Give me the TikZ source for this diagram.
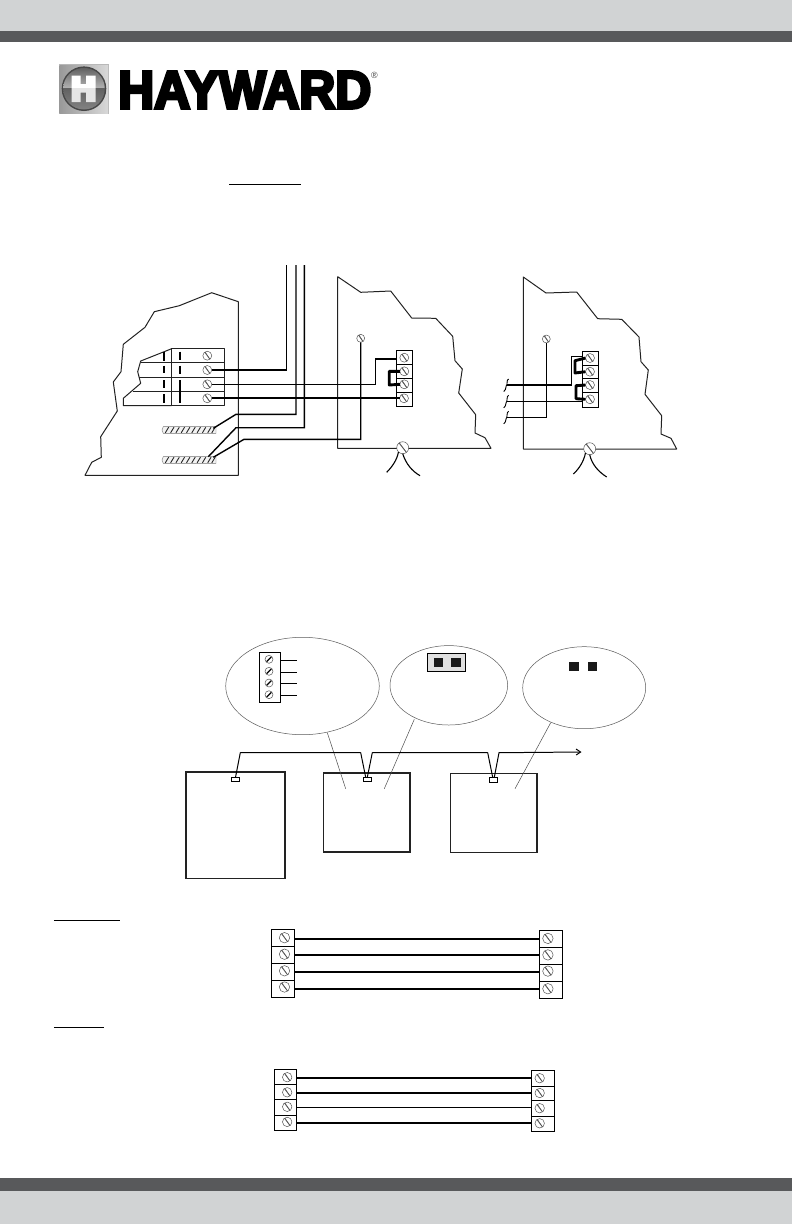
\documentclass[tikz,border=0pt]{standalone}
\usepackage{fontspec}
\usepackage{graphicx}
\usetikzlibrary{shapes.geometric,arrows.meta}
\newfontfamily\logofont[UprightFont=* Bold,FakeBold=6]{Liberation Sans}
\newfontfamily\regfont{Liberation Sans}
\definecolor{bandlight}{HTML}{D1D3D4}
\definecolor{banddark}{HTML}{58595B}
\definecolor{outl}{HTML}{222222}
\definecolor{scr}{HTML}{555555}
\tikzset{
 panel/.style={draw=outl,line width=1pt,line join=round},
 wire/.style={draw=black,line width=1.4pt,line join=miter},
 thinwire/.style={draw=black,line width=1.1pt},
 heavywire/.style={draw=black,line width=2pt},
 jumper/.style={draw=black,line width=2.9pt,line join=round},
 termbox/.style={draw=black,line width=0.9pt,fill=white},
 screw/.style={circle,draw=scr,line width=0.5pt,fill=white,inner sep=0pt,outer sep=0pt,minimum size=#1,
   path picture={\draw[scr,line width=0.7pt] ([xshift=0.7pt,yshift=0.7pt]path picture bounding box.north west) -- ([xshift=-0.7pt,yshift=-0.7pt]path picture bounding box.south east);
   \draw[scr,line width=0.5pt] ([xshift=2pt,yshift=-0.2pt]path picture bounding box.north west) -- ([xshift=0.2pt,yshift=-2pt]path picture bounding box.south east);}},
 bscrew/.style={circle,draw=scr,line width=0.5pt,fill=white,inner sep=0pt,outer sep=0pt,minimum size=8pt,
   path picture={\draw[black,line width=1.2pt] (path picture bounding box.south west) ++(1.6pt,1.6pt) -- ([xshift=-1.6pt,yshift=-1.6pt]path picture bounding box.north east);}},
 bubble/.style={ellipse,draw=black!65,line width=0.5pt,inner sep=0pt,outer sep=0pt},
 unitbox/.style={rectangle,draw=outl,line width=1.6pt,inner sep=0pt,outer sep=0pt},
 portbox/.style={rectangle,draw=black,line width=0.7pt,fill=white,inner sep=0pt,outer sep=0pt},
 leader/.style={draw=black!70,line width=0.5pt},
 cable/.style={draw=black,line width=1pt,line join=round},
 rule/.style={draw=black,line width=1pt},
 squiggle/.style={draw=black,line width=0.9pt},
 strip/.style={draw=black!55,line width=0.4pt,fill=black!5},
 hatch/.style={draw=black!85,line width=0.9pt},
}
\newcommand{\hstrip}[1]{%
  \draw[strip] (163.3,#1-3.4) -- (216,#1-3.4) -- (216,#1+3.4) -- (163.3,#1+3.4) -- (162,#1) -- cycle;
  \foreach \xx in {167,172.3,177.6,182.9,188.2,193.5,198.8,204.1,209.4,213.5}
    {\draw[hatch] (\xx-1.7,#1+2.8) -- (\xx+1.7,#1-2.8);}%
}
\begin{document}
\begin{tikzpicture}[x=1bp,y=-1bp]
\useasboundingbox (0,0) rectangle (792,1224);
% bands
\fill[bandlight] (0,0) rectangle (792,31);
\fill[banddark] (0,31) rectangle (792,42);
\fill[banddark] (0,1178) rectangle (792,1190.5);
\fill[bandlight] (0,1190.5) rectangle (792,1224);
% logo
\fill[black!28] (58.5,64) rectangle (109,114);
\shade[left color=black!40,right color=black!15] (59.5,65) rectangle (108,113);
\fill[black!72] (84,88.7) circle (22.3);
\begin{scope}
\clip (84,88.7) circle (20.8);
\shade[top color=black!65,bottom color=black!30] (60,66) rectangle (108,88);
\shade[top color=black!62,bottom color=black!48] (60,88) rectangle (108,111);
\end{scope}
\begin{scope}
\clip (71.7,75.5) -- (80.5,75.5) -- (80.5,84) -- (86,84) -- (86,75.5) -- (95.5,75.5) -- (95.5,102) -- (86,102) -- (86,92.5) -- (80.5,92.5) -- (80.5,102) -- (71.7,102) -- cycle;
\fill[white] (70,74) rectangle (97,88);
\fill[black!10] (70,88) rectangle (97,103);
\end{scope}
\node[inner sep=0pt,anchor=north west] (logotext) at (118,71.5) {\resizebox{253bp}{36.5bp}{\logofont HAYWARD}};
\node[inner sep=0pt,text=black!75] (regmark) at (374.5,75.3) {\regfont\fontsize{9}{9}\selectfont ®};
% top rule
\coordinate (r1a) at (229,184); \coordinate (r1b) at (300.7,184);
\draw[rule] (r1a) -- (r1b);

% LEFT PANEL
\draw[panel] (238.3,301.7) -- (211.7,292.7) -- (179.3,305.7) -- (154.3,311.7) -- (145,327.3) -- (123.3,344.3) -- (121,371.7) -- (113.3,382) -- (117.3,411) -- (100.7,436.7) -- (101.3,457.3) -- (91.7,462.3) -- (85,475.3) -- (238.3,475.3) -- cycle;
% breaker
\draw[panel] (171.7,348.7) rectangle (224,405.7);
\draw[panel] (171.7,348.7) -- (140.7,361) -- (137.7,371.7) -- (140.7,383.3) -- (123.3,398.3) -- (123.3,405.7) -- (171.7,405.7);
\draw[panel] (140.7,362.7) -- (224,362.7);
\draw[panel] (139,377.3) -- (224,377.3);
\draw[panel] (132.7,391.3) -- (224,391.3);
\foreach \a/\b in {351.7/361,365.7/373.3,380/387.7,394/403}{\draw[black,line width=1.4pt] (164,\a) -- (164,\b);}
\foreach \a/\b in {351.7/360,365.7/374.3,380/402.7}{\draw[black,line width=1.4pt] (180,\a) -- (180,\b);}
\node[screw=9pt] (b1) at (207.3,355.7) {};
\node[screw=9pt] (b2) at (207.3,370) {};
\node[screw=9pt] (b3) at (207.3,384.3) {};
\node[screw=9pt] (b4) at (207.3,398.3) {};
\hstrip{430}
\hstrip{460}
\coordinate (busA) at (213.3,428.3);
\coordinate (busB) at (208.3,456.7);
\coordinate (busC) at (213.3,457.3);

% MIDDLE PANEL
\draw[panel] (337.7,276.7) -- (360.7,292.3) -- (390.7,291) -- (411.7,318) -- (435.7,318.3) -- (452.7,336.3) -- (455,360.7) -- (462.3,369) -- (458.7,393) -- (475.7,414.7) -- (475,433) -- (485,437.7) -- (491,448.3) -- (337.7,448.3) -- cycle;
\draw[termbox] (396.3,350.3) rectangle (412.7,406.3);
\foreach \yy in {364.3,378.3,392}{\draw[black,line width=0.9pt] (396.3,\yy) -- (412.7,\yy);}
\node[screw=9pt] (m1) at (404.3,357.7) {};
\node[screw=9pt] (m2) at (404.3,371.3) {};
\node[screw=9pt] (m3) at (404.3,384.3) {};
\node[screw=9pt] (m4) at (404,398.3) {};
\node[screw=8pt] (mg) at (360.7,338.3) {};
\node[screw=12pt] (mgnd) at (402.7,447.7) {};
\draw[jumper] (m2.west) -| (389.3,385) -- (m3.west);
\coordinate (wm1) at (375.7,359);
% wires left to middle
\coordinate (t1) at (286.7,265);
\coordinate (t2) at (296,265);
\coordinate (t3) at (304.3,265);
\draw[wire] (b2.east) -- (286.7,370) -- (t1);
\draw[thinwire] (b3.east) -- (375.7,384.3) -- (wm1) -- (396.3,359);
\draw[heavywire] (b4.east) -- (m4.west);
\draw[wire] (t2) -- (296,414.3) -- (236,414.3) -- (busA);
\draw[wire] (t3) -- (304.3,427.7) -- (236,427.7) -- (busB);
\draw[wire] (mg.south) -- (360.7,439.3) -- (244,439.3) -- (busC);
\coordinate (mga) at (386.7,472.3);
\coordinate (mgb) at (420,475.7);
\draw[thinwire] (mgnd.south west) .. controls (397,460) and (392,467) .. (mga);
\draw[thinwire] (mgnd.south) .. controls (406,464) and (412,471) .. (mgb);

% RIGHT PANEL
\draw[panel] (523.3,277) -- (546,293) -- (576.7,292) -- (597.7,318.7) -- (621.7,319.3) -- (639,337) -- (641,361.7) -- (648.3,370) -- (645,394.3) -- (661.7,415.7) -- (661,434) -- (671,438.3) -- (676.7,449) -- (523.3,449) -- cycle;
\draw[termbox] (582.3,351.3) rectangle (598.7,407.7);
\foreach \yy in {365.3,378.7,392.7}{\draw[black,line width=0.9pt] (582.3,\yy) -- (598.7,\yy);}
\node[screw=9pt] (r1) at (590,358) {};
\node[screw=9pt] (r2) at (590,371.7) {};
\node[screw=9pt] (r3) at (590,385) {};
\node[screw=9pt] (r4) at (590,399.3) {};
\node[screw=8pt] (rg) at (546.3,339) {};
\node[screw=12pt] (rgnd) at (589.7,448.7) {};
\draw[jumper] (r1.west) -- (575,360.7) -- (575,373) -- (r2.west);
\draw[jumper] (r3.west) -- (576,385.7) -- (576,398.7) -- (r4.west);
\coordinate (s1) at (506.7,385);
\coordinate (s2) at (506.7,401.3);
\coordinate (s3) at (506.7,417.3);
\draw[thinwire] (s1) -- (571.7,385) -- (571.7,356.7) -- (582.3,356.7);
\draw[thinwire] (s2) -- (582.3,401.3);
\draw[thinwire] (s3) -- (546.3,417.3) -- (rg.south);
\foreach \c in {s1,s2,s3}{\draw[squiggle] ([xshift=2pt,yshift=6pt]\c) .. controls ([xshift=-0.5pt,yshift=6pt]\c) and ([xshift=1pt,yshift=-1pt]\c) .. ([xshift=-0.5pt,yshift=-1pt]\c) .. controls ([xshift=-1pt,yshift=-4pt]\c) and ([xshift=-1.5pt,yshift=-6pt]\c) .. ([xshift=-3pt,yshift=-6.5pt]\c);}
\coordinate (rga) at (573.3,474);
\coordinate (rgb) at (606.7,477);
\draw[thinwire] (rgnd.south west) .. controls (584,461) and (579,469) .. (rga);
\draw[thinwire] (rgnd.south) .. controls (592,465) and (599,472) .. (rgb);

% BUBBLES
\node[bubble,minimum width=153.6bp,minimum height=97.4bp] (e1) at (302.5,686) {};
\node[bubble,minimum width=117.6bp,minimum height=79.4bp] (e2) at (448.8,685.3) {};
\node[bubble,minimum width=123bp,minimum height=82bp] (e3) at (584.2,687.7) {};
\draw[termbox] (259.3,652.3) rectangle (280.7,702.3);
\node[bscrew] (k1) at (269,659.3) {};
\node[bscrew] (k2) at (269,671.3) {};
\node[bscrew] (k3) at (269,683) {};
\node[bscrew] (k4) at (269,694.7) {};
\foreach \n/\yy in {k1/660.3,k2/672.3,k3/683.3,k4/695.3}{\draw[black,line width=0.8pt] (280.7,\yy) -- (297,\yy);}
\draw[termbox,fill=black!12] (427.3,653.3) rectangle (465.7,671.7);
\fill[black!90] (434,658) rectangle (443,666.7);
\fill[black!90] (451.3,658) rectangle (461,666.7);
\fill[black!90] (569,662) rectangle (579,670.7);
\fill[black!90] (588,662) rectangle (597,670.7);
% UNITS
\node[unitbox,minimum width=99bp,minimum height=106.3bp] (ua) at (235.5,825.15) {};
\node[unitbox,minimum width=86.3bp,minimum height=79bp] (ub) at (366.85,812.2) {};
\node[unitbox,minimum width=86.4bp,minimum height=79bp] (uc) at (493.5,812.8) {};
\node[portbox,minimum width=7.6bp,minimum height=4.4bp] (pa) at (235.5,779.5) {};
\node[portbox,minimum width=8.4bp,minimum height=4.4bp] (pb) at (367.5,779.5) {};
\node[portbox,minimum width=8.4bp,minimum height=5.4bp] (pc) at (493.5,780) {};
% leaders
\coordinate (l1) at (345.7,788.7);
\coordinate (l2) at (384.3,788.7);
\coordinate (l3) at (515,788.7);
\draw[leader] (327.3,732.7) -- (l1);
\draw[leader] (414.3,719.3) -- (l2);
\draw[leader] (550.7,722.7) -- (l3);
% cable
\coordinate (cend) at (581.5,752);
\draw[cable] (pa.north) -- (240.3,752.7) -- (360.7,752.7) -- ([xshift=-1.8pt]pb.north);
\draw[cable] ([xshift=-0.2pt]pb.north) -- (372.3,752.7) -- (487.7,752.7) -- ([xshift=-0.8pt]pc.north);
\draw[cable,-{Straight Barb[length=4.5pt,width=6pt]}] ([xshift=0.8pt]pc.north) -- (499,752.7) -- (cend);

% RULES
\coordinate (r2a) at (53.8,920); \coordinate (r2b) at (119.9,920);
\draw[rule] (r2a) -- (r2b);
\coordinate (r3a) at (53.8,1027.5); \coordinate (r3b) at (104.4,1027.5);
\draw[rule] (r3a) -- (r3b);

% 4-wire link A
\draw[termbox] (271.4,929.1) rectangle (294.5,997.3);
\foreach \yy in {946.7,963.5,980.4}{\draw[black,line width=0.9pt] (271.4,\yy) -- (294.5,\yy);}
\draw[termbox] (539.3,930.1) rectangle (562.7,998.7);
\foreach \yy in {947,964.2,981.1}{\draw[black,line width=0.9pt] (539.3,\yy) -- (562.7,\yy);}
\node[screw=10.5pt] (a1) at (284.5,937.7) {};
\node[screw=10.5pt] (a2) at (284.5,954.2) {};
\node[screw=10.5pt] (a3) at (284.5,970.8) {};
\node[screw=10.5pt] (a4) at (284.5,987) {};
\node[screw=10.5pt] (c1) at (547.9,938.4) {};
\node[screw=10.5pt] (c2) at (547.9,954.9) {};
\node[screw=10.5pt] (c3) at (547.9,971.1) {};
\node[screw=10.5pt] (c4) at (547.9,988.7) {};
\draw[heavywire] (294.5,939) -- (539.3,939);
\draw[heavywire] (294.5,955) -- (539.3,955);
\draw[heavywire] (294.5,972) -- (539.3,972);
\draw[heavywire] (294.5,988.5) -- (539.3,988.5);

% 4-wire link B
\draw[termbox] (274.2,1069.6) rectangle (296.5,1130.9);
\foreach \yy in {1084.8,1099.9,1115}{\draw[black,line width=0.9pt] (274.2,\yy) -- (296.5,\yy);}
\draw[termbox] (531.4,1070.6) rectangle (554.5,1131.9);
\foreach \yy in {1086.1,1100.6,1116.1}{\draw[black,line width=0.9pt] (531.4,\yy) -- (554.5,\yy);}
\node[screw=9.5pt] (d1) at (287.2,1077.2) {};
\node[screw=9.5pt] (d2) at (287.2,1092.3) {};
\node[screw=9.5pt] (d3) at (287.2,1106.8) {};
\node[screw=9.5pt] (d4) at (287.2,1121.9) {};
\node[screw=9.5pt] (f1) at (539.7,1078.2) {};
\node[screw=9.5pt] (f2) at (539.7,1093) {};
\node[screw=9.5pt] (f3) at (539.7,1108.2) {};
\node[screw=9.5pt] (f4) at (539.7,1123.3) {};
\draw[heavywire] (296.5,1078) -- (531.4,1078);
\draw[heavywire] (296.5,1093) -- (531.4,1093);
\draw[thinwire,line width=0.8pt] (296.5,1107.8) -- (531.4,1107.8);
\draw[heavywire] (296.5,1122.5) -- (531.4,1122.5);
\end{tikzpicture}
\end{document}
